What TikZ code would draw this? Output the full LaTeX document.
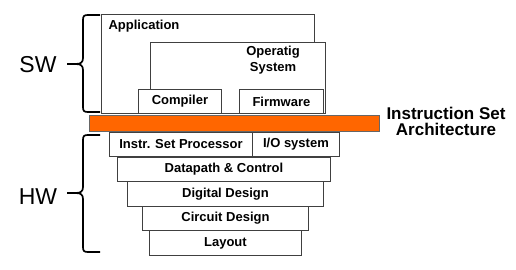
\documentclass[tikz,border=0pt]{standalone}
\usepackage{fontspec}
\setmainfont{Liberation Sans}
\usepackage{tikz}
\definecolor{isaorange}{RGB}{255,102,0}

\begin{document}
\begin{tikzpicture}[
    x=1pt, y=-1pt,
    layer/.style={rectangle, draw=black!75, fill=white, line width=0.9pt, inner sep=0pt, anchor=north west, align=center, font=\fontsize{13}{15}\selectfont\bfseries},
    lbl/.style={inner sep=0pt, align=center, font=\fontsize{13}{16}\selectfont\bfseries},
    side/.style={inner sep=0pt, font=\fontsize{23}{26}\selectfont},
    bar/.style={rectangle, draw=black!60, fill=isaorange, line width=0.9pt, inner sep=0pt, anchor=north west},
    curly/.style={line width=1.7pt}
]
\useasboundingbox (0,0) rectangle (516,270);
% software side
\node (app) [layer, minimum width=213pt, minimum height=99pt] at (101,14) {};
\node (os) [layer, minimum width=175pt, minimum height=71pt] at (150,42) {};
\node (compiler) [layer, minimum width=83pt, minimum height=24pt] at (138,89) {Compiler};
\node (firmware) [layer, minimum width=84pt, minimum height=24pt] at (239,89) {Firmware};
\node (applbl) [lbl] at (144,26) {Application};
\node (oslbl) [lbl] at (273,60) {Operatig\\System};
% instruction set architecture
\node (isa) [bar, minimum width=290pt, minimum height=16pt] at (89,115) {};
\node (isalbl) [inner sep=0pt, align=center, font=\fontsize{17}{16}\selectfont\bfseries] at (446,121) {Instruction Set\\Architecture};
% hardware side
\node (isp) [layer, minimum width=143pt, minimum height=24pt] at (109,132) {Instr. Set Processor};
\node (io) [layer, minimum width=87pt, minimum height=24pt] at (252,132) {I/O system};
\node (datapath) [layer, minimum width=213pt, minimum height=24pt] at (117,157) {Datapath \& Control};
\node (digital) [layer, minimum width=196pt, minimum height=25pt] at (127,181) {Digital Design};
\node (circuit) [layer, minimum width=166pt, minimum height=24pt] at (142,206) {Circuit Design};
\node (layout) [layer, minimum width=152pt, minimum height=25pt] at (149,230) {Layout};
% braces
\coordinate (swtop) at (100,15);
\coordinate (swtip) at (67,64);
\coordinate (swbot) at (100,112);
\coordinate (hwtop) at (100,135);
\coordinate (hwtip) at (67,193);
\coordinate (hwbot) at (100,252);
\draw [curly] (swtop) -- (88,15) .. controls (84,15) and (83,16) .. (83,20) -- (83,58)
  .. controls (83,62) and (81,64) .. (76,64) -- (swtip);
\draw [curly] (swtip) -- (76,64) .. controls (81,64) and (83,66) .. (83,70) -- (83,107)
  .. controls (83,111) and (84,112) .. (88,112) -- (swbot);
\draw [curly] (hwtop) -- (88,135) .. controls (84,135) and (83,136) .. (83,140) -- (83,187)
  .. controls (83,191) and (81,193) .. (76,193) -- (hwtip);
\draw [curly] (hwtip) -- (76,193) .. controls (81,193) and (83,195) .. (83,199) -- (83,247)
  .. controls (83,251) and (84,252) .. (88,252) -- (hwbot);
\node (sw) [side] at (38,65) {SW};
\node (hw) [side] at (38,197) {HW};
\end{tikzpicture}
\end{document}
